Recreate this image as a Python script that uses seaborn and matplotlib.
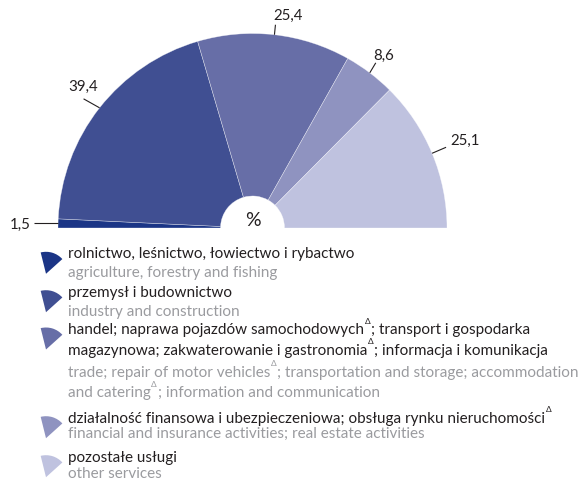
import matplotlib
matplotlib.use("Agg")
import numpy as np
import matplotlib.pyplot as plt
import seaborn as sns
from matplotlib.patches import Wedge

# Shares of gross value added by section (%)
shares = [1.5, 39.4, 25.4, 8.6, 25.1]
share_labels = ["1,5", "39,4", "25,4", "8,6", "25,1"]
palette_hex = ["#1b3586", "#404f92", "#676ea7", "#8f93c0", "#bfc2df"]

# Legend texts; "{Δ}" marks a superscript delta
names_pl = [
    ["rolnictwo, leśnictwo, łowiectwo i rybactwo"],
    ["przemysł i budownictwo"],
    ["handel; naprawa pojazdów samochodowych{Δ}; transport i gospodarka",
     "magazynowa; zakwaterowanie i gastronomia{Δ}; informacja i komunikacja"],
    ["działalność finansowa i ubezpieczeniowa; obsługa rynku nieruchomości{Δ}"],
    ["pozostałe usługi"],
]
names_en = [
    ["agriculture, forestry and fishing"],
    ["industry and construction"],
    ["trade; repair of motor vehicles{Δ}; transportation and storage; accommodation",
     "and catering{Δ}; information and communication"],
    ["financial and insurance activities; real estate activities"],
    ["other services"],
]

sns.set_theme(style="white")
plt.rcParams["font.family"] = ["Lato", "DejaVu Sans"]
colors = sns.color_palette(palette_hex)

W, H = 580, 480
fig = plt.figure(figsize=(W / 100, H / 100), dpi=100)
ax = fig.add_axes([0, 0, 1, 1])

# half-donut: pad with an invisible half so the drawn part spans 180 degrees
cx, cy, R, r_in = 252.5, 228.0, 194.5, 32.0
vals = shares + [sum(shares)]
wedges, _ = ax.pie(vals, colors=list(colors) + ["white"], startangle=180,
                   counterclock=True, center=(cx, cy), radius=R,
                   wedgeprops=dict(width=R - r_in, edgecolor=(1, 1, 1, 0.55),
                                   linewidth=0.4))
wedges[-1].set_visible(False)

ax.set_xlim(0, W)
ax.set_ylim(H, 0)
ax.set_aspect("equal")
ax.axis("off")

ax.text(cx, 226, "%", ha="center", va="baseline", fontsize=14, color="#231f20")

# value labels with leader lines from the wedge mid-angle
total = sum(vals)
cum = np.cumsum([0] + shares)
leader = [(-24, 0), (-16, -9), (1, -10), (6, -10), (14, -6)]
text_off = [(-3, 5), (0, -8), (13, -5), (8, -3), (4, -2)]
text_ha = ["right", "center", "center", "center", "left"]
for i, v in enumerate(shares):
    ang = np.deg2rad(180 + (cum[i] + v / 2) / total * 360)
    ex, ey = cx + R * np.cos(ang), cy + R * np.sin(ang)
    lx, ly = ex + leader[i][0], ey + leader[i][1]
    ax.plot([ex, lx], [ey, ly], color="#231f20", lw=0.8, solid_capstyle="butt")
    ax.text(lx + text_off[i][0], ly + text_off[i][1], share_labels[i],
            ha=text_ha[i], va="baseline", fontsize=10.8, color="#231f20")

# legend
fig.canvas.draw()
renderer = fig.canvas.get_renderer()


def put_line(x, y, text, color, size):
    parts = text.split("{Δ}")
    px = x
    for k, part in enumerate(parts):
        if part:
            t = ax.text(px, y, part, color=color, fontsize=size, ha="left", va="baseline")
            px += t.get_window_extent(renderer).width
        if k < len(parts) - 1:
            t = ax.text(px + 0.5, y - 10.5, "Δ", color=color, fontsize=size * 0.55,
                        ha="left", va="baseline")
            px += t.get_window_extent(renderer).width + 1


pl_color, en_color = "#231f20", "#9a9b9f"
pl_base = [[258.3], [296.7], [334, 355], [422.7], [461.7]]
en_base = [[276.7], [316], [376.7, 397.3], [438.3], [477.7]]
text_x = 68
for i in range(len(shares)):
    top = pl_base[i][0] - 5.5
    apex = (46, top + 21)
    ax.add_patch(Wedge(apex, 22, -104, -42, facecolor=colors[i], edgecolor="none"))
    for line, yb in zip(names_pl[i], pl_base[i]):
        put_line(text_x, yb, line, pl_color, 11.0)
    for line, yb in zip(names_en[i], en_base[i]):
        put_line(text_x, yb, line, en_color, 11.0)

fig.savefig("out.png", dpi=100)
